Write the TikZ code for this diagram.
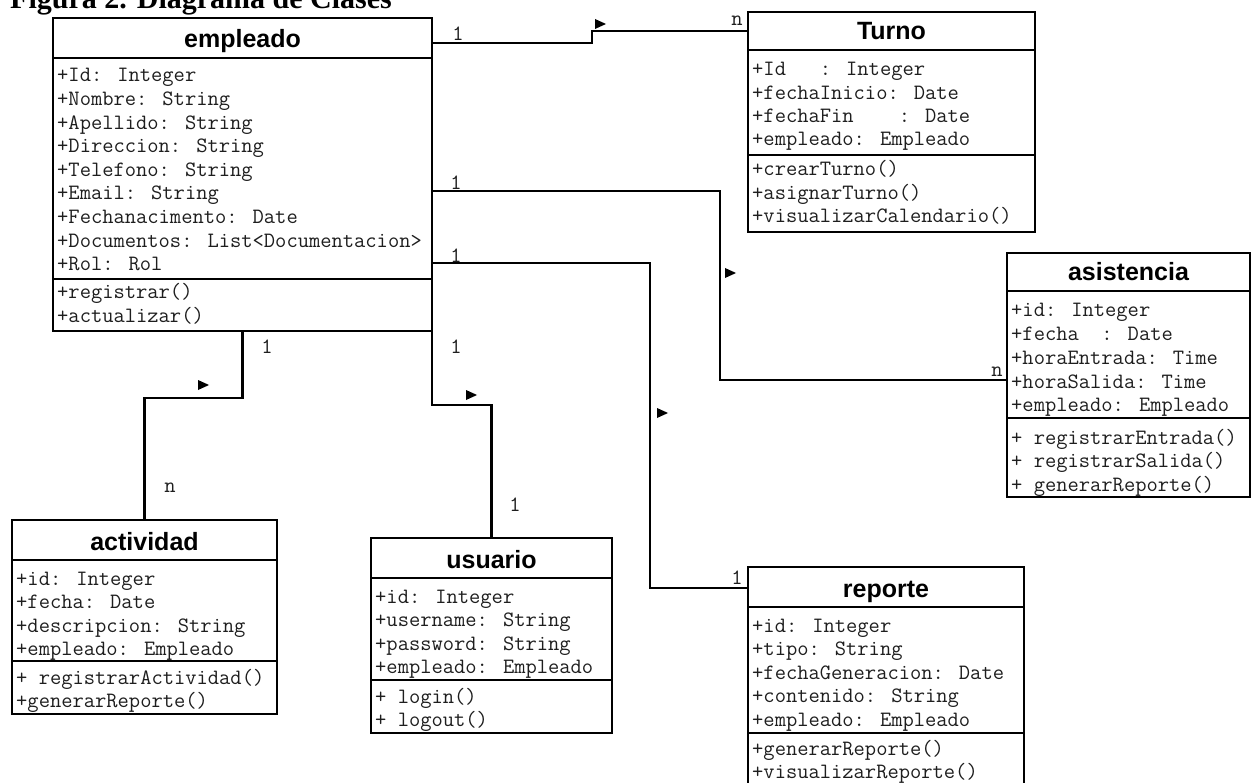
\documentclass[tikz,border=0pt]{standalone}
\usepackage{fontspec}
\setmainfont{Liberation Serif}
\newfontfamily\hdrfont{Liberation Sans}
\definecolor{txtgray}{HTML}{1E1E1E}
\newcommand\umlcls[8]{% name, x1, y1, x2, y2, header bottom, divider, title
  \node[clsbox, minimum width={#4-#2}, minimum height={#5-#3}] (#1) at ({(#2+#4)/2},{(#3+#5)/2}) {};
  \draw[clsline] (#2,#6) -- (#4,#6);
  \draw[clsline] (#2,#7) -- (#4,#7);
  \node[hdr, anchor=base] (#1-title) at ({(#2+#4)/2},{#6-10}) {#8};
}
\newcommand\umlrows[5]{% prefix, x, first center, spacing, list
  \foreach \txt [count=\i from 0] in {#5} {
    \node[row] (#1-\i) at (#2,{#3+\i*#4+6}) {\txt};
  }
}
\begin{document}
\begin{tikzpicture}[
  x=1pt, y=-1pt,
  clsbox/.style={draw=black, line width=2.4pt, inner sep=0pt, outer sep=0pt, fill=white},
  clsline/.style={draw=black, line width=2.2pt},
  hdr/.style={font=\hdrfont\bfseries\fontsize{25}{28}\selectfont, inner sep=0pt, text=black},
  row/.style={font=\ttfamily\fontsize{21.9}{24}\selectfont, inner sep=0pt, text=txtgray, anchor=base west},
  mult/.style={font=\ttfamily\fontsize{21.9}{24}\selectfont, inner sep=0pt, text=txtgray},
  conn/.style={draw=black, line width=2.4pt},
  dirtri/.pic={\fill[black] (-5,-5) -- (6,0) -- (-5,5) -- cycle;}
]
\useasboundingbox[fill=white] (0,0) rectangle (1260,783);

% title (cut at the top edge)
\node[anchor=base west, inner sep=0pt, font=\bfseries\fontsize{30}{32}\selectfont] (title) at (10,9) {Figura 2. Diagrama de Clases};

% ---------------- classes ----------------
\umlcls{empleado}{53}{18}{432}{331}{58}{279}{empleado}
\umlrows{emp}{57}{76}{23.6}{+Id: Integer,+Nombre: String,+Apellido: String,+Direccion: String,+Telefono: String,+Email: String,+Fechanacimento: Date,+Documentos: List<Documentacion>,+Rol: Rol}
\umlrows{empm}{57}{293}{23.5}{+registrar(),+actualizar()}

\umlcls{Turno}{748}{12}{1035}{232}{50}{155}{Turno}
\umlrows{tur}{752}{70}{23.3}{+Id\ \ \ : Integer,+fechaInicio: Date,+fechaFin\ \ \ \ : Date,+empleado: Empleado}
\umlrows{turm}{752}{170}{23.3}{+crearTurno(),+asignarTurno(),+visualizarCalendario()}

\umlcls{asistencia}{1007}{253}{1250}{497}{291}{418}{asistencia}
\umlrows{asi}{1011}{311}{23.7}{+id: Integer,+fecha\ \ : Date,+horaEntrada: Time,+horaSalida: Time,+empleado: Empleado}
\umlrows{asim}{1011}{438}{23.7}{+\ registrarEntrada(),+\ registrarSalida(),+\ generarReporte()}

\umlcls{actividad}{12}{520}{277}{714}{560}{661}{actividad}
\umlrows{act}{16}{579}{23.5}{+id: Integer,+fecha: Date,+descripcion: String,+empleado: Empleado}
\umlrows{actm}{16}{678}{23.5}{+\ registrarActividad(),+generarReporte()}

\umlcls{usuario}{371}{538}{612}{733}{578}{680}{usuario}
\umlrows{usu}{375}{597}{23.5}{+id: Integer,+username: String,+password: String,+empleado: Empleado}
\umlrows{usum}{375}{697}{23.5}{+\ login(),+\ logout()}

\umlcls{reporte}{748}{567}{1024}{792}{607}{733}{reporte}
\umlrows{rep}{752}{626}{23.5}{+id: Integer,+tipo: String,+fechaGeneracion: Date,+contenido: String,+empleado: Empleado}
\umlrows{repm}{752}{749}{23.5}{+generarReporte(),+visualizarReporte()}

% ---------------- connectors ----------------
\coordinate (t1) at (592,43);
\coordinate (t2) at (592,31);
\draw[conn] (empleado.east |- t1) -- (t1) -- (t2) -- (Turno.west |- t2);

\coordinate (s1) at (720,191);
\coordinate (s2) at (720,380);
\draw[conn] (empleado.east |- s1) -- (s1) -- (s2) -- (asistencia.west |- s2);

\coordinate (r1) at (650,263);
\coordinate (r2) at (650,588);
\draw[conn] (empleado.east |- r1) -- (r1) -- (r2) -- (reporte.west |- r2);

\coordinate (a1) at (243,398);
\draw[conn] (empleado.south) -- (empleado.south |- a1) -- (actividad.north |- a1) -- (actividad.north);

\coordinate (u1) at (432,405);
\draw[conn] (empleado.south east) -- (empleado.south east |- u1) -- (usuario.north |- u1) -- (usuario.north);

% direction marks
\pic at (600,24) {dirtri};
\pic at (730,273) {dirtri};
\pic at (662,413) {dirtri};
\pic at (203,385) {dirtri};
\pic at (471,395) {dirtri};

% multiplicities
\node[mult] (m1) at (458,34) {1};
\node[mult] (m2) at (737,21) {n};
\node[mult] (m3) at (456,183) {1};
\node[mult] (m4) at (997,372) {n};
\node[mult] (m5) at (456,256) {1};
\node[mult] (m6) at (737,578) {1};
\node[mult] (m7) at (267,347) {1};
\node[mult] (m8) at (170,488) {n};
\node[mult] (m9) at (456,347) {1};
\node[mult] (m10) at (515,505) {1};
\end{tikzpicture}
\end{document}
